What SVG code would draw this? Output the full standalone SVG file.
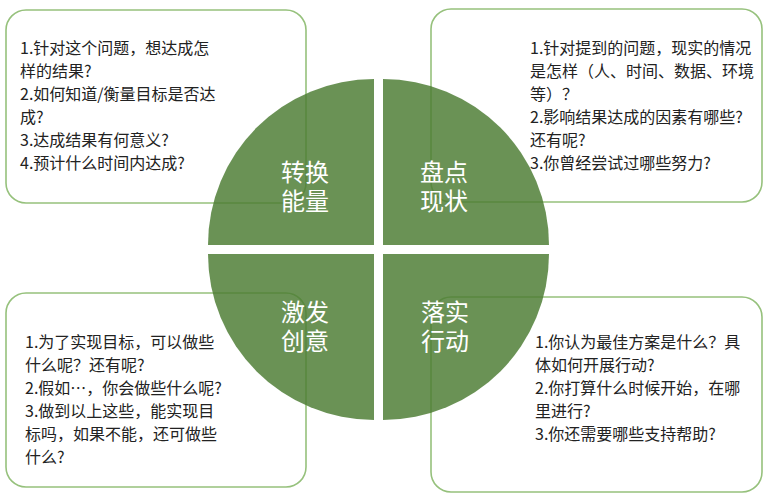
<svg xmlns="http://www.w3.org/2000/svg" width="774" height="498" viewBox="0 0 774 498">
<style>
.box{fill:#ffffff;stroke:#96c17c;stroke-width:1.6}
.q{fill:#4c7c33;fill-opacity:0.83}
.t{font-family:"Noto Sans CJK SC","Noto Sans",sans-serif;font-size:16px;fill:#222222}
.lab{font-family:"Noto Sans CJK SC","Noto Sans",sans-serif;font-size:24px;fill:#ffffff;text-anchor:middle}
</style>
<rect width="774" height="498" fill="#ffffff"/>
<g id="box-tl">
<rect class="box" x="6" y="10" width="300" height="193" rx="20"/>
<text class="t" x="20" y="54">1.针对这个问题，想达成怎</text>
<text class="t" x="20" y="77">样的结果?</text>
<text class="t" x="20" y="100">2.如何知道/衡量目标是否达</text>
<text class="t" x="20" y="123">成?</text>
<text class="t" x="20" y="146">3.达成结果有何意义?</text>
<text class="t" x="20" y="169">4.预计什么时间内达成?</text>
</g>
<g id="box-tr">
<rect class="box" x="431" y="9" width="331" height="193" rx="20"/>
<text class="t" x="530" y="54">1.针对提到的问题，现实的情况</text>
<text class="t" x="530" y="77">是怎样（人、时间、数据、环境</text>
<text class="t" x="530" y="100">等）？</text>
<text class="t" x="530" y="123">2.影响结果达成的因素有哪些?</text>
<text class="t" x="530" y="146">还有呢?</text>
<text class="t" x="530" y="169">3.你曾经尝试过哪些努力?</text>
</g>
<g id="box-bl">
<rect class="box" x="6" y="293" width="300" height="194" rx="20"/>
<text class="t" x="25" y="348">1.为了实现目标，可以做些</text>
<text class="t" x="25" y="371">什么呢？还有呢?</text>
<text class="t" x="25" y="394">2.假如…，你会做些什么呢?</text>
<text class="t" x="25" y="417">3.做到以上这些，能实现目</text>
<text class="t" x="25" y="440">标吗，如果不能，还可做些</text>
<text class="t" x="25" y="463">什么?</text>
</g>
<g id="box-br">
<rect class="box" x="431" y="297" width="331" height="195" rx="20"/>
<text class="t" x="535" y="348">1.你认为最佳方案是什么？具</text>
<text class="t" x="535" y="371">体如何开展行动?</text>
<text class="t" x="535" y="394">2.你打算什么时候开始，在哪</text>
<text class="t" x="535" y="417">里进行?</text>
<text class="t" x="535" y="440">3.你还需要哪些支持帮助?</text>
</g>
<g id="q-tl">
<path class="q" d="M374,245 L374,79 A166,166 0 0 0 208,245 Z"/>
<text class="lab"><tspan x="305" y="181">转换</tspan><tspan x="305" y="210">能量</tspan></text>
</g>
<g id="q-tr">
<path class="q" d="M383,245 L549,245 A166,166 0 0 0 383,79 Z"/>
<text class="lab"><tspan x="444" y="181">盘点</tspan><tspan x="444" y="210">现状</tspan></text>
</g>
<g id="q-bl">
<path class="q" d="M374,254 L208,254 A166,166 0 0 0 374,420 Z"/>
<text class="lab"><tspan x="305" y="321">激发</tspan><tspan x="305" y="350">创意</tspan></text>
</g>
<g id="q-br">
<path class="q" d="M383,254 L383,420 A166,166 0 0 0 549,254 Z"/>
<text class="lab"><tspan x="445" y="321">落实</tspan><tspan x="445" y="350">行动</tspan></text>
</g>
<g id="connectors"/>
</svg>
